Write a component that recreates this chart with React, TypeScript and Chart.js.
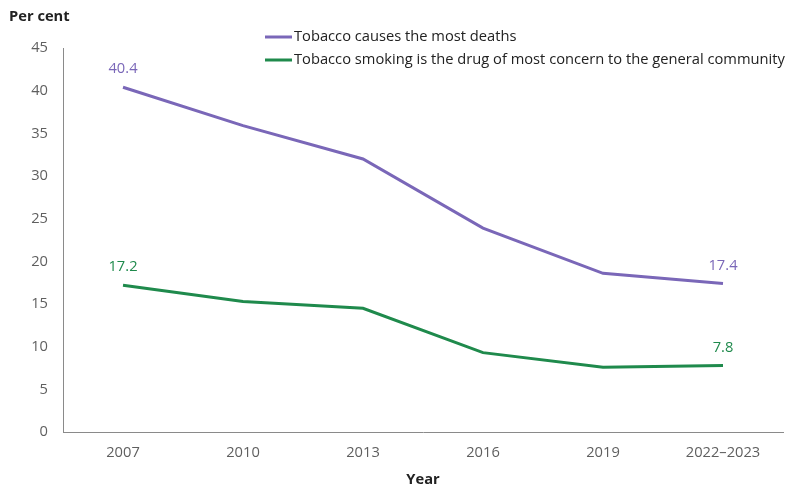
import React, { useEffect, useRef } from "react";
import { Chart, registerables } from "chart.js";

Chart.register(...registerables);

const years = ["2007", "2010", "2013", "2016", "2019", "2022–2023"];
const mostDeaths = [40.4, 35.9, 32.0, 23.9, 18.6, 17.4];
const mostConcern = [17.2, 15.3, 14.5, 9.3, 7.6, 7.8];
const seriesNames = [
  "Tobacco causes the most deaths",
  "Tobacco smoking is the drug of most concern to the general community",
];
const seriesColours = ["#7a67b8", "#1f8a4c"];
const yTitle = "Per cent";
const xTitle = "Year";

const FONT = "'Open Sans', 'Noto Sans', sans-serif";
const SIZE = 14.7;

// Draws the unit label, the stacked legend and the first/last value labels.
const decorations = {
  id: "decorations",
  afterDatasetsDraw(chart: Chart) {
    const { ctx } = chart;
    ctx.save();

    ctx.font = `bold ${SIZE}px ${FONT}`;
    ctx.fillStyle = "#222222";
    ctx.textAlign = "left";
    ctx.textBaseline = "middle";
    ctx.fillText(yTitle, 9, 17);

    ctx.font = `${SIZE}px ${FONT}`;
    seriesNames.forEach((name, i) => {
      const y = 37 + i * 23;
      ctx.strokeStyle = seriesColours[i];
      ctx.lineWidth = 3;
      ctx.beginPath();
      ctx.moveTo(265, y);
      ctx.lineTo(292, y);
      ctx.stroke();
      ctx.fillStyle = "#222222";
      ctx.fillText(name, 294, y);
    });

    ctx.textAlign = "center";
    ctx.textBaseline = "middle";
    chart.data.datasets.forEach((ds, di) => {
      const meta = chart.getDatasetMeta(di);
      const last = ds.data.length - 1;
      [0, last].forEach((idx) => {
        const pt = meta.data[idx];
        ctx.fillStyle = seriesColours[di];
        ctx.fillText(String((ds.data[idx] as number).toFixed(1)), pt.x, pt.y - 18);
      });
    });
    ctx.restore();
  },
};

export default function App() {
  const ref = useRef<HTMLCanvasElement>(null);

  useEffect(() => {
    document.body.style.margin = "0";
    const canvas = ref.current;
    if (!canvas) return;
    const chart = new Chart(canvas, {
      type: "line",
      data: {
        labels: years,
        datasets: [
          {
            label: seriesNames[0],
            data: mostDeaths,
            borderColor: seriesColours[0],
            backgroundColor: seriesColours[0],
            borderWidth: 3,
            pointRadius: 0,
            tension: 0,
          },
          {
            label: seriesNames[1],
            data: mostConcern,
            borderColor: seriesColours[1],
            backgroundColor: seriesColours[1],
            borderWidth: 3,
            pointRadius: 0,
            tension: 0,
          },
        ],
      },
      options: {
        responsive: false,
        animation: false,
        layout: { padding: { top: 48, right: 18, left: 0, bottom: 0 } },
        plugins: {
          legend: { display: false },
          tooltip: { enabled: false },
        },
        scales: {
          x: {
            offset: true,
            grid: { display: false, drawTicks: false },
            border: { display: true, color: "#8a8a8a", width: 1 },
            ticks: {
              color: "#5f5f5f",
              font: { family: FONT, size: SIZE },
              padding: 12,
              maxRotation: 0,
            },
            title: {
              display: true,
              text: xTitle,
              color: "#222222",
              font: { family: FONT, size: SIZE, weight: "bold" },
              padding: { top: 10, bottom: 12 },
            },
            afterFit: (s: any) => {
              s.height = 69;
            },
          },
          y: {
            min: 0,
            max: 45,
            grid: { display: false, drawTicks: false },
            border: { display: true, color: "#8a8a8a", width: 1 },
            ticks: {
              stepSize: 5,
              color: "#5f5f5f",
              font: { family: FONT, size: SIZE },
              padding: 15,
            },
            afterFit: (s: any) => {
              s.width = 63;
            },
          },
        },
      },
      plugins: [decorations],
    });
    return () => chart.destroy();
  }, []);

  return (
    <div style={{ width: 801, height: 501 }}>
      <canvas ref={ref} width={801} height={501} />
    </div>
  );
}
